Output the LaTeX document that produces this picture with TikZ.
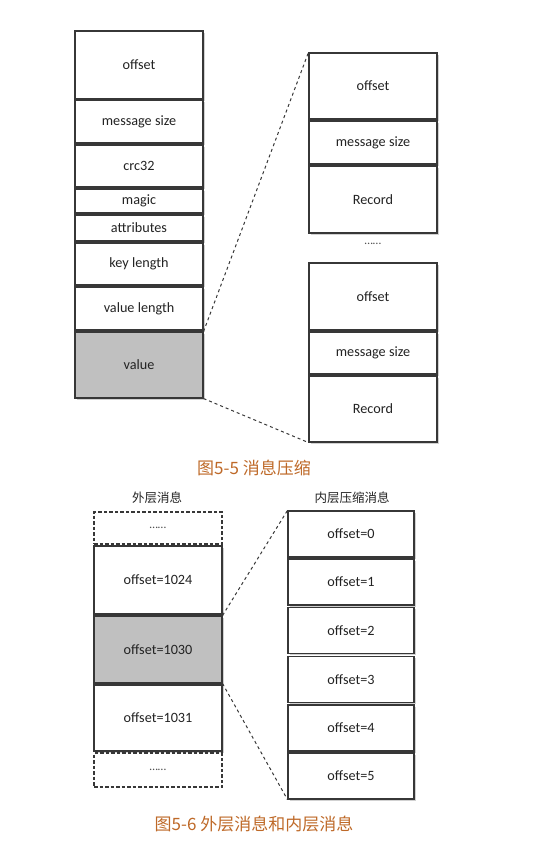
\documentclass[tikz,border=0pt]{standalone}
\usepackage{fontspec}
\setmainfont{Carlito}
\newfontfamily\cjk{Noto Sans CJK SC}
\usetikzlibrary{shadows}
\definecolor{capcol}{RGB}{190,105,40}
\definecolor{boxline}{RGB}{55,55,55}
\definecolor{txtcol}{RGB}{35,35,35}
\definecolor{grayfill}{RGB}{192,192,192}
\tikzset{
  box/.style={draw=boxline, line width=1.1pt, fill=white, inner sep=0pt,
    minimum width=128pt, text=txtcol, font=\fontsize{14.2}{16}\selectfont,
    drop shadow={shadow xshift=1.5pt, shadow yshift=-1.5pt, fill=black, opacity=0.18}},
  dbox/.style={draw=boxline, line width=1.2pt, dash pattern=on 3.5pt off 2pt, fill=white, inner sep=0pt,
    minimum width=128pt, text=txtcol!80, font=\fontsize{12}{14}\selectfont},
  conn/.style={draw=boxline, line width=1pt, dash pattern=on 3pt off 3pt},
  caption/.style={text=capcol, font=\cjk\fontsize{17}{20}\selectfont},
  colhead/.style={text=txtcol, font=\cjk\fontsize{12.5}{15}\selectfont},
  dots/.style={text=txtcol!80, font=\fontsize{12}{14}\selectfont}
}
\begin{document}
\begin{tikzpicture}[x=1pt,y=-1pt]
\useasboundingbox (0,0) rectangle (553,841);
% ---- Figure 5-5 left column
\node[box, minimum height=68pt] (o1) at (139,65) {offset};
\node[box, minimum height=43pt] (ms1) at (139,121.5) {message size};
\node[box, minimum height=42pt] (crc) at (139,166) {crc32};
\node[box, minimum height=24pt] (mag) at (139,201) {magic};
\node[box, minimum height=26pt] (att) at (139,228) {attributes};
\node[box, minimum height=42pt] (key) at (139,264) {key length};
\node[box, minimum height=43pt] (vlen) at (139,308.5) {value length};
\node[box, minimum height=66pt, fill=grayfill] (val) at (139,365) {value};
% ---- Figure 5-5 right column
\node[box, minimum height=66pt] (ro1) at (373,86) {offset};
\node[box, minimum height=43pt] (rms1) at (373,142.5) {message size};
\node[box, minimum height=67pt] (rr1) at (373,199.5) {Record};
\node[dots] (rdots) at (373,244) {……};
\node[box, minimum height=67pt] (ro2) at (373,296.5) {offset};
\node[box, minimum height=42pt] (rms2) at (373,353) {message size};
\node[box, minimum height=66pt] (rr2) at (373,409) {Record};
\draw[conn] (val.north east) -- (ro1.north west);
\draw[conn] (val.south east) -- (rr2.south west);
\node[caption] (cap1) at (254,468) {图5-5 消息压缩};
% ---- Figure 5-6 headers
\node[colhead] (h1) at (157,498) {外层消息};
\node[colhead] (h2) at (352,498) {内层压缩消息};
% ---- Figure 5-6 left column
\node[dbox, minimum height=32pt] (d1) at (158,528) {……};
\node[box, minimum height=68pt] (b1) at (158,580) {offset=1024};
\node[box, minimum height=67pt, fill=grayfill] (b2) at (158,649.5) {offset=1030};
\node[box, minimum height=66pt] (b3) at (158,718) {offset=1031};
\node[dbox, minimum height=34pt] (d2) at (158,770) {……};
% ---- Figure 5-6 right column
\tikzset{ibox/.style={box, minimum width=126pt, minimum height=46pt}}
\node[ibox] (i0) at (351,534) {offset=0};
\node[ibox] (i1) at (351,582) {offset=1};
\node[ibox] (i2) at (351,630.5) {offset=2};
\node[ibox] (i3) at (351,679.5) {offset=3};
\node[ibox] (i4) at (351,728) {offset=4};
\node[ibox] (i5) at (351,776) {offset=5};
\draw[conn] (b2.north east) -- (i0.north west);
\draw[conn] (b2.south east) -- (i5.south west);
\node[caption] (cap2) at (254,824) {图5-6 外层消息和内层消息};
\end{tikzpicture}
\end{document}
